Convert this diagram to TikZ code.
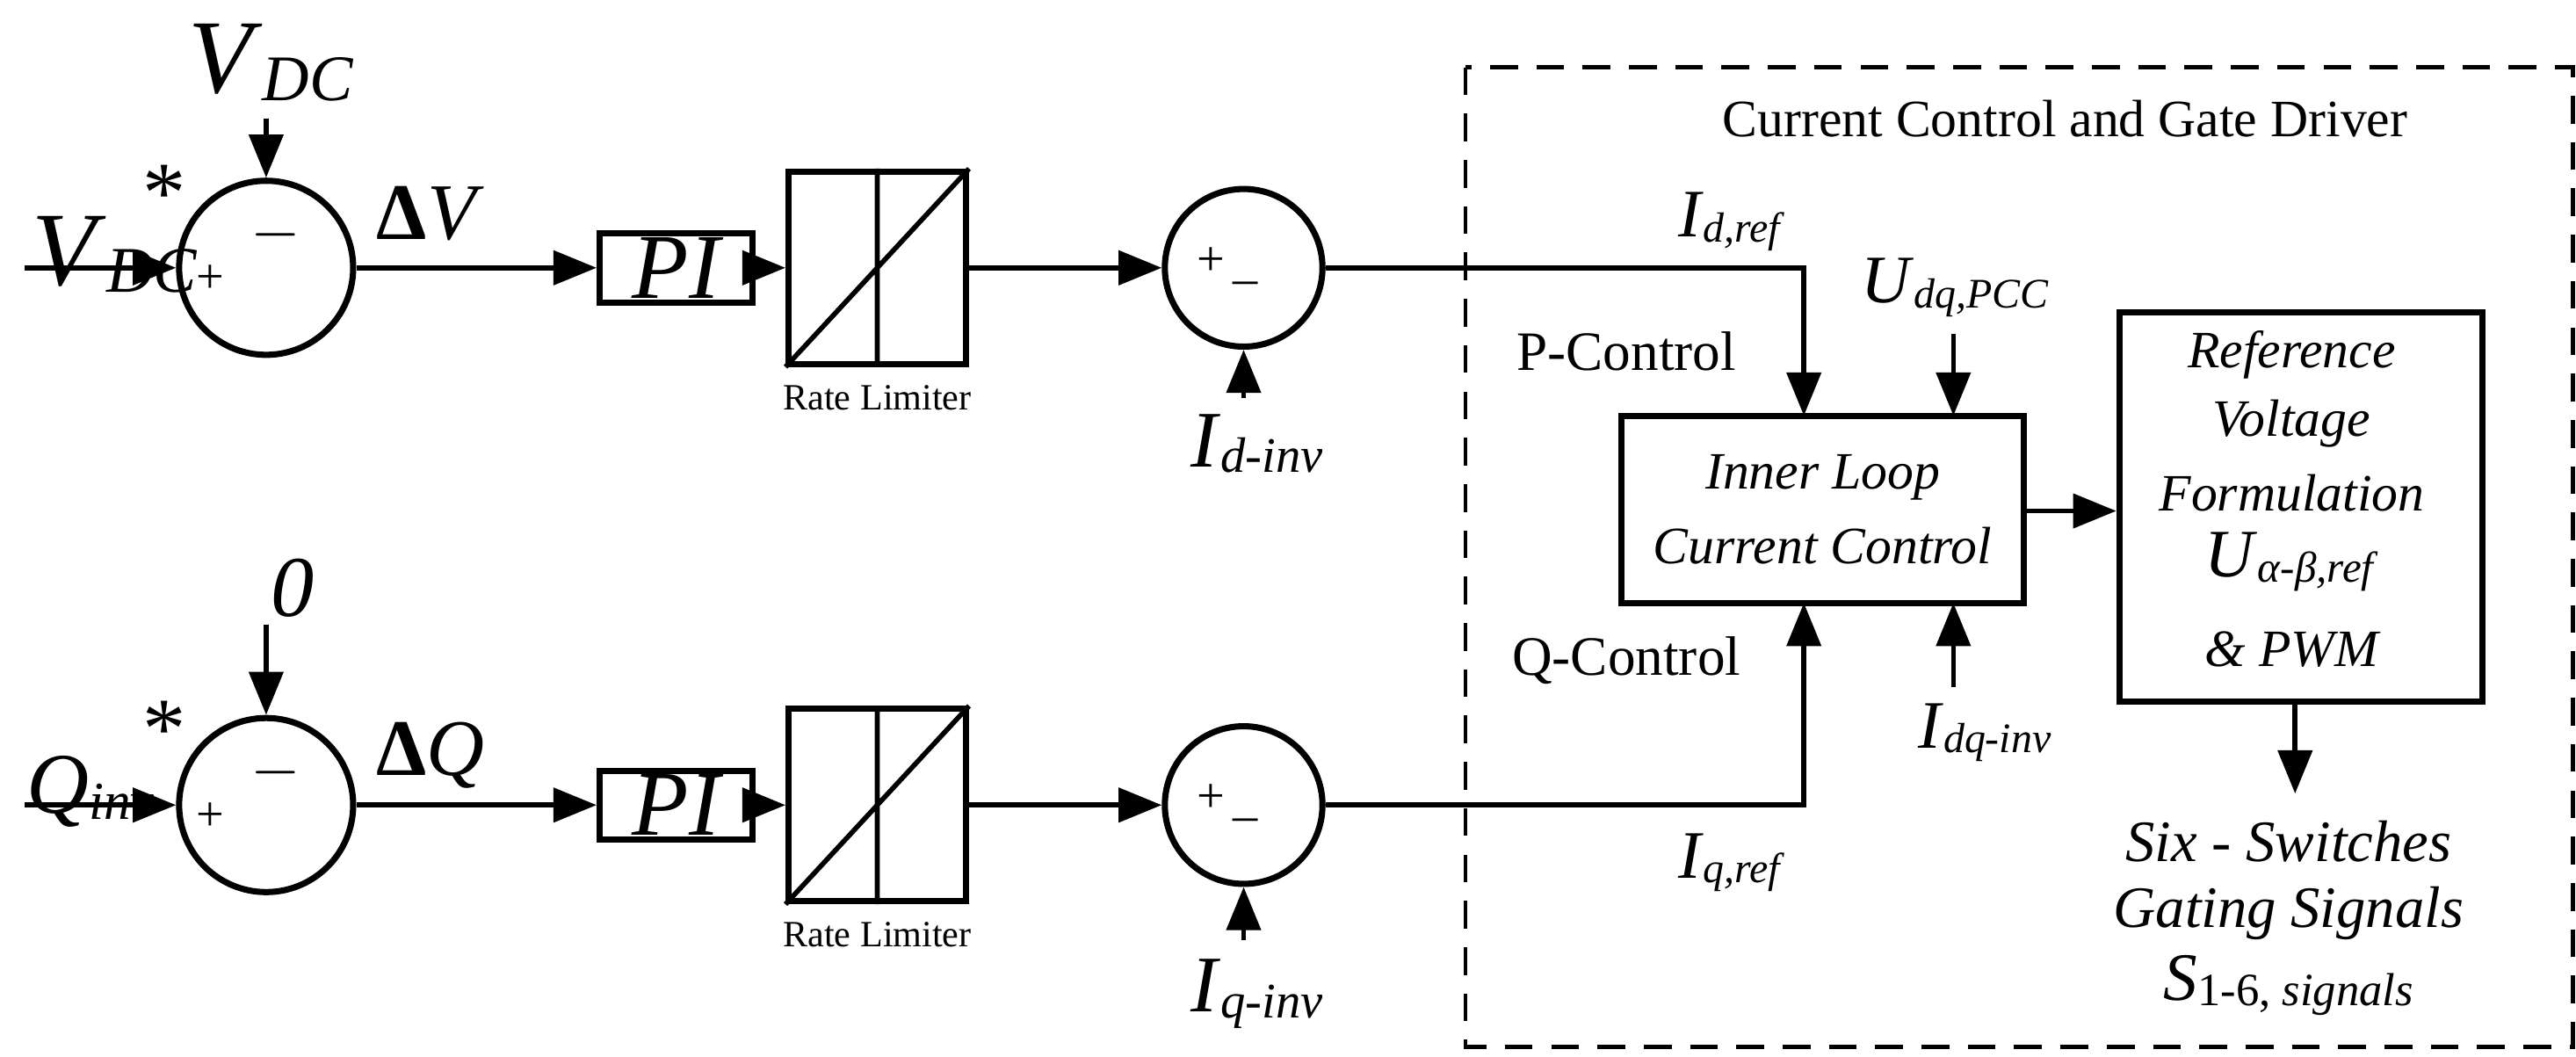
\documentclass[tikz,border=0pt]{standalone}
\usepackage{fontspec}
\setmainfont{Liberation Serif}
\usetikzlibrary{arrows.meta}
\newcommand{\lsub}[2]{\textit{#1}{\fontsize{0.62em}{0.7em}\selectfont\raisebox{-0.25ex}{\textit{#2}}}}
\begin{document}
\begin{tikzpicture}[x=0.0187cm,y=-0.0187cm,
  ln/.style={line width=1.6pt},
  ar/.style={ln,-{Triangle[length=14pt,width=11pt]}},
  blk/.style={draw,line width=2pt,inner sep=0pt},
  sumc/.style={draw,circle,line width=2pt,inner sep=0pt},
  lab/.style={font=\fontsize{19}{22}\selectfont},
  big/.style={font=\fontsize{34}{38}\selectfont}]
\useasboundingbox (0,0) rectangle (1568,643);
\foreach \r/\y/\yb in {a/163/1, b/490/2}{
  \node[sumc,minimum size=1.982cm] (s1\r) at (162,\y) {};
  \node[blk,minimum width=1.739cm,minimum height=0.785cm] (pi\r) at (411.5,\y) {};
  \node[blk,minimum width=2.02cm,minimum height=2.188cm] (rl\r) at (534,\y) {};
  \draw[line width=1.6pt] (rl\r.south west) -- (rl\r.north east) (rl\r.south) -- (rl\r.north);
  \node[font=\fontsize{12}{14}\selectfont] (rlt\r) at (534,\y+79) {Rate Limiter};
  \node[sumc,minimum size=1.795cm] (s2\r) at (757,\y) {};
  \node[font=\fontsize{16}{18}\selectfont] at (128,\y+7) {+};
  \node[font=\fontsize{20}{22}\selectfont] at (168,\y-20) {$-$};
  \node[font=\fontsize{16}{18}\selectfont] at (737,\y-4) {+};
  \node[font=\fontsize{16}{18}\selectfont] at (758,\y+8) {\_};
  \coordinate (in\r) at (15,\y);
  \draw[ar] (in\r) -- (s1\r.west);
  \draw[ar] (s1\r.east) -- (pi\r.west);
  \draw[ar] (pi\r.east) -- (rl\r.west);
  \draw[ar] (rl\r.east) -- (s2\r.west);
}
\node[lab,font=\fontsize{30}{34}\selectfont\itshape] at (411.5,163) {PI};
\node[lab,font=\fontsize{30}{34}\selectfont\itshape] at (411.5,490) {PI};
% top inputs
\coordinate (vt) at (162,72);
\draw[ar] (vt) -- (s1a.north);
\node[big] at (165,38) {\lsub{V}{DC}};
\node[big] at (70,155) {\lsub{V}{DC}};
\node[font=\fontsize{28}{30}\selectfont] at (100,118) {*};
\node[font=\fontsize{26}{30}\selectfont] at (262,130) {\textbf{Δ}\textit{V}};
\coordinate (zt) at (162,380);
\draw[ar] (zt) -- (s1b.north);
\node[font=\fontsize{28}{30}\selectfont\itshape] at (178,358) {0};
\node[font=\fontsize{28}{32}\selectfont] at (55,482) {\lsub{Q}{inv}};
\node[font=\fontsize{28}{30}\selectfont] at (100,444) {*};
\node[font=\fontsize{26}{30}\selectfont] at (262,460) {\textbf{Δ}\textit{Q}};
% feedback currents
\coordinate (ida) at (757,242);
\draw[ar] (ida) -- (s2a.south);
\node[font=\fontsize{26}{30}\selectfont] at (765,270) {\lsub{I}{d-inv}};
\coordinate (iqa) at (757,572);
\draw[ar] (iqa) -- (s2b.south);
\node[font=\fontsize{26}{30}\selectfont] at (765,605) {\lsub{I}{q-inv}};
% dashed box
\draw[line width=1.4pt,dash pattern=on 9pt off 6pt] (892,41) rectangle (1566,637);
\node[font=\fontsize{17}{20}\selectfont] at (1257,72) {Current Control and Gate Driver};
\node[blk,minimum width=4.582cm,minimum height=2.132cm,align=center,font=\fontsize{17}{22}\selectfont\itshape] (inl) at (1109.5,310) {Inner Loop\\[2pt] Current Control};
\node[blk,minimum width=4.133cm,minimum height=4.432cm] (ref) at (1400.5,308.5) {};
\node[font=\fontsize{17}{20}\selectfont\itshape] at (1395,216) {Reference};
\node[font=\fontsize{17}{20}\selectfont\itshape] at (1395,258) {Voltage};
\node[font=\fontsize{17}{20}\selectfont\itshape] at (1395,300) {Formulation};
\node[font=\fontsize{22}{24}\selectfont] at (1395,342) {\textit{U}{\fontsize{14}{16}\selectfont\raisebox{-0.25ex}{\textit{α-β,ref}}}};
\node[font=\fontsize{17}{20}\selectfont\itshape] at (1395,395) {\& PWM};
\draw[ln,-{Triangle[length=14pt,width=11pt]}] (s2a.east) -- (1098,163) -- (1098,253);
\draw[ln,-{Triangle[length=14pt,width=11pt]}] (s2b.east) -- (1098,490) -- (1098,367);
\coordinate (ut) at (1189,203);
\draw[ar] (ut) -- (1189,253);
\coordinate (it) at (1189,418);
\draw[ar] (it) -- (1189,367);
\draw[ar] (inl.east |- 0,311) -- (ref.west |- 0,311);
\coordinate (outp) at (1397,483);
\draw[ar] (ref.south -| outp) -- (outp);
\node[font=\fontsize{22}{24}\selectfont] at (1054,135) {\lsub{I}{d,ref}};
\node[font=\fontsize{22}{24}\selectfont] at (1054,525) {\lsub{I}{q,ref}};
\node[font=\fontsize{22}{24}\selectfont] at (1190,175) {\lsub{U}{dq,PCC}};
\node[font=\fontsize{22}{24}\selectfont] at (1208,446) {\lsub{I}{dq-inv}};
\node[font=\fontsize{18}{20}\selectfont] at (990,214) {P-Control};
\node[font=\fontsize{18}{20}\selectfont] at (990,402) {Q-Control};
\node[font=\fontsize{19}{22}\selectfont\itshape] at (1393,512) {Six - Switches};
\node[font=\fontsize{19}{22}\selectfont\itshape] at (1393,556) {Gating Signals};
\node[font=\fontsize{22}{24}\selectfont] at (1393,600) {\textit{S}{\fontsize{15}{17}\selectfont\raisebox{-0.25ex}{1-6, \textit{signals}}}};
\end{tikzpicture}
\end{document}
